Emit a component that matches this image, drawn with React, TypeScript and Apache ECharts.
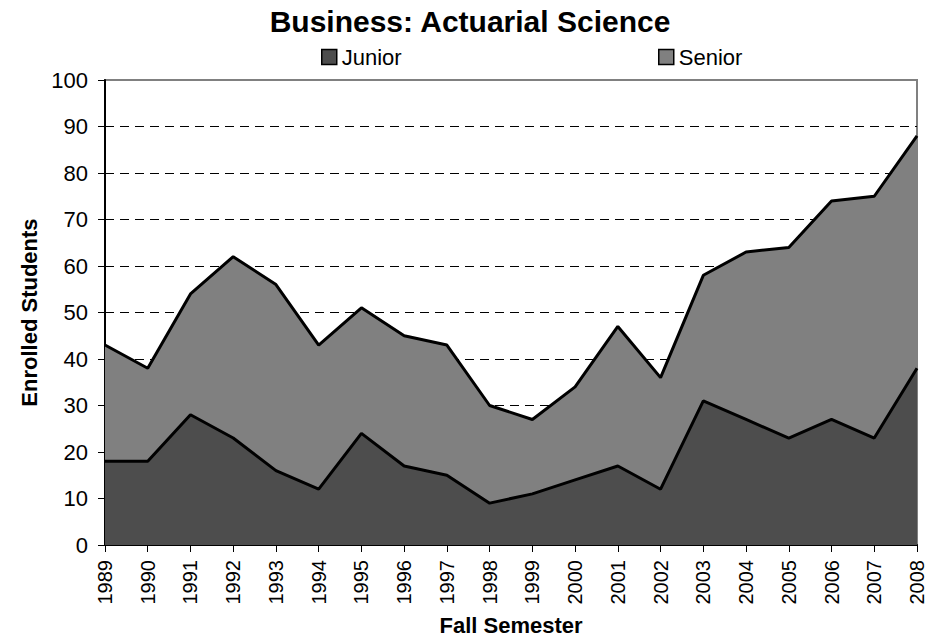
import React, { useEffect, useRef } from "react";
import * as echarts from "echarts";

const years = ["1989","1990","1991","1992","1993","1994","1995","1996","1997","1998","1999","2000","2001","2002","2003","2004","2005","2006","2007","2008"];
const junior = [18,18,28,23,16,12,24,17,15,9,11,14,17,12,31,27,23,27,23,38];
const senior = [25,20,26,39,40,31,27,28,28,21,16,20,30,24,27,36,41,47,52,50];
const yTicks = [0,10,20,30,40,50,60,70,80,90,100];

const FONT = "'Liberation Sans', Arial, sans-serif";

export default function App() {
  const ref = useRef<HTMLDivElement>(null);
  useEffect(() => {
    if (!ref.current) return;
    const chart = echarts.init(ref.current, null, { renderer: "svg" });
    const legendText = { fontFamily: FONT, fontSize: 22, color: "#000" };
    chart.setOption({
      animation: false,
      backgroundColor: "#fff",
      title: {
        text: "Business: Actuarial Science",
        left: "center",
        top: 1,
        textStyle: { fontFamily: FONT, fontSize: 30, fontWeight: "bold", color: "#000" },
      },
      legend: [
        {
          data: [{ name: "Junior", itemStyle: { color: "#4d4d4d", borderColor: "#000", borderWidth: 1.5 } }],
          left: 321, top: 46, itemWidth: 15, itemHeight: 15, itemGap: 4,
          icon: "rect", textStyle: legendText, padding: [0, 0, 0, 0],
        },
        {
          data: [{ name: "Senior", itemStyle: { color: "#808080", borderColor: "#000", borderWidth: 1.5 } }],
          left: 658, top: 46, itemWidth: 15, itemHeight: 15, itemGap: 4,
          icon: "rect", textStyle: legendText, padding: [0, 0, 0, 0],
        },
      ],
      grid: {
        left: 105, right: 23, top: 80, bottom: 92,
        outerBoundsMode: "none",
        containLabel: false,
        show: true, borderColor: "#808080", borderWidth: 2, backgroundColor: "transparent",
      },
      xAxis: {
        type: "category",
        data: years,
        boundaryGap: false,
        name: "Fall Semester",
        nameLocation: "middle",
        nameGap: 69,
        nameTextStyle: { fontFamily: FONT, fontSize: 22, fontWeight: "bold", color: "#000" },
        axisLine: { lineStyle: { color: "#000", width: 2 } },
        axisTick: { show: true, length: 7, lineStyle: { color: "#000", width: 1 }, alignWithLabel: true },
        axisLabel: { rotate: 90, fontFamily: FONT, fontSize: 20, color: "#000", margin: 15, interval: 0 },
        splitLine: { show: false },
      },
      yAxis: {
        type: "value",
        min: 0, max: 100, interval: 10,
        name: "Enrolled Students",
        nameLocation: "middle",
        nameGap: 62,
        nameTextStyle: { fontFamily: FONT, fontSize: 22, fontWeight: "bold", color: "#000" },
        axisLine: { show: true, lineStyle: { color: "#000", width: 2 } },
        axisTick: { show: true, length: 7, lineStyle: { color: "#000", width: 1 } },
        axisLabel: {
          fontFamily: FONT, fontSize: 22, color: "#000", margin: 17,
          formatter: (v: number) => (yTicks.includes(v) ? String(v) : ""),
        },
        splitLine: {
          show: true,
          lineStyle: {
            color: ["#000","#000","#000","#000","#000","#000","#000","#000","#000","#000","rgba(0,0,0,0)"],
            width: 1, type: [9, 6],
          },
        },
      },
      series: [
        {
          name: "Junior", type: "line", stack: "total", data: junior,
          symbol: "none",
          lineStyle: { color: "#000", width: 3 },
          areaStyle: { color: "#4d4d4d", opacity: 1 },
          itemStyle: { color: "#4d4d4d" },
          z: 3,
        },
        {
          name: "Senior", type: "line", stack: "total", data: senior,
          symbol: "none",
          lineStyle: { color: "#000", width: 3 },
          areaStyle: { color: "#808080", opacity: 1 },
          itemStyle: { color: "#808080" },
          z: 2,
        },
      ],
    });
    return () => chart.dispose();
  }, []);
  return <div ref={ref} style={{ width: 940, height: 637, position: "absolute", left: 0, top: 0 }} />;
}
